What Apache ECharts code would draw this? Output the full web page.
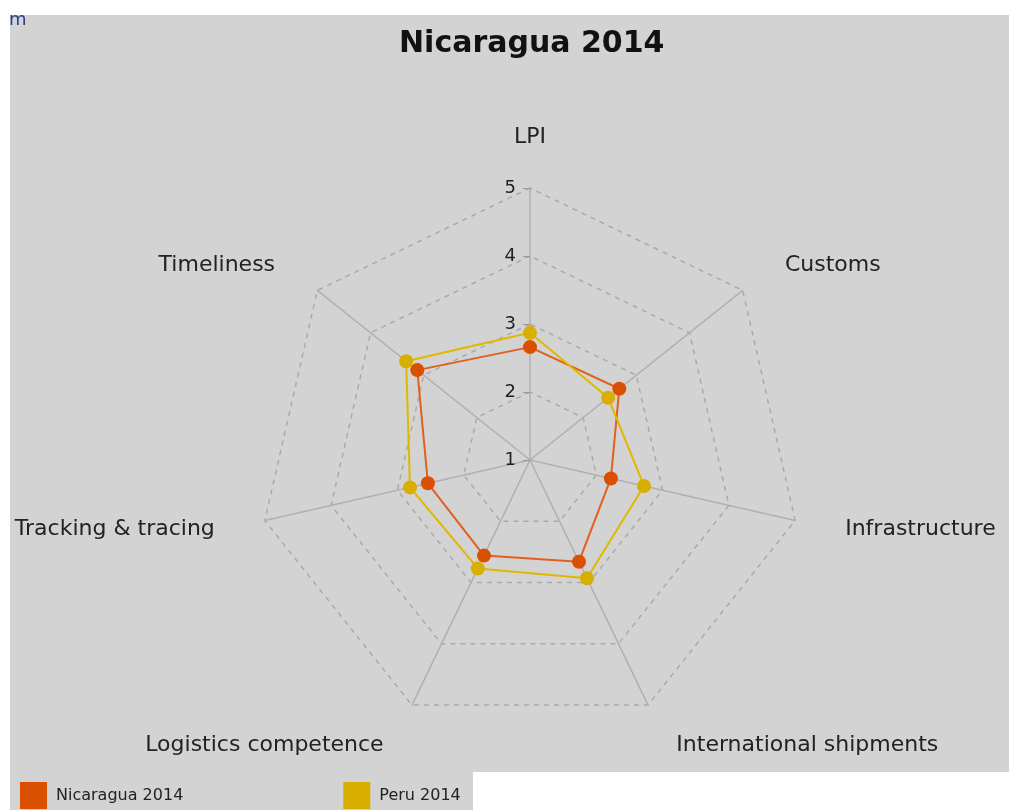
<!DOCTYPE html>
<html>
<head>
<meta charset="utf-8">
<script src="https://cdn.jsdelivr.net/npm/echarts@6/dist/echarts.min.js"></script>
<style>
  html, body { margin: 0; padding: 0; background: #fff; }
  #chart { width: 1011px; height: 810px; }
</style>
</head>
<body>
<div id="chart"></div>
<script>
// categories listed clockwise from the top, as in the picture
const categories = ['LPI', 'Customs', 'Infrastructure', 'International shipments',
  'Logistics competence', 'Tracking & tracing', 'Timeliness']
const nicaragua = [2.66, 2.68, 2.22, 2.66, 2.56, 2.54, 3.12]
const peru = [2.87, 2.47, 2.72, 2.93, 2.77, 2.81, 3.33]
const seriesNames = ['Nicaragua 2014', 'Peru 2014']
const tickLabels = ['1', '2', '3', '4', '5']

const font = 'DejaVu Sans, Verdana, sans-serif'
const center = [530, 460]
const radius = 272

// echarts radar runs counter-clockwise, so flip everything after the first axis
const order = [0].concat(categories.map((c, i) => i).slice(1).reverse())
const pick = arr => order.map(i => arr[i])
const lowNames = ['International shipments', 'Logistics competence']

const chart = echarts.init(document.getElementById('chart'))
chart.setOption({
  backgroundColor: '#fff',
  animation: false,
  graphic: [
    { type: 'rect', z: -10, shape: { x: 10, y: 15, width: 999, height: 757 }, style: { fill: '#d3d3d3' } },
    { type: 'rect', z: -10, shape: { x: 10, y: 772, width: 463, height: 38 }, style: { fill: '#d3d3d3' } },
    // stray clipped glyph in the top-left corner
    { type: 'text', z: 1, left: 9, top: 11, style: { text: 'm', fill: '#2b3f8c', font: '18px ' + font } },
    { type: 'rect', z: 5, shape: { x: 0, y: 0, width: 1011, height: 15 }, style: { fill: '#fff' } }
  ],
  title: {
    text: 'Nicaragua 2014',
    left: 394,
    top: 24,
    textStyle: { fontFamily: font, fontSize: 30, fontWeight: 'bold', color: '#111' }
  },
  legend: {
    left: 20,
    top: 782,
    itemWidth: 27,
    itemHeight: 27,
    itemGap: 160,
    icon: 'rect',
    padding: 0,
    textStyle: { fontFamily: font, fontSize: 16, color: '#222', padding: [0, 0, 0, 4] },
    data: seriesNames
  },
  radar: {
    center: center,
    radius: radius,
    startAngle: 90,
    splitNumber: 4,
    shape: 'polygon',
    nameGap: 40,
    axisName: {
      color: '#222',
      fontFamily: font,
      fontSize: 22,
      padding: [0, 11, 0, 11],
      formatter: name => lowNames.includes(name) ? '{low|' + name + '}' : name,
      rich: { low: { color: '#222', fontFamily: font, fontSize: 22, padding: [8, 0, 0, 0] } }
    },
    indicator: pick(categories).map(name => ({ name: name, min: 1, max: 5 })),
    axisLine: { lineStyle: { color: '#b0b0b0', width: 1.5 } },
    splitLine: { lineStyle: { color: '#aaaaaa', width: 1.5, type: [5, 5] } },
    splitArea: { show: false },
    axisTick: { show: false },
    axisLabel: { show: false }
  },
  // polar overlay only used to put the 1..5 scale on the LPI axis
  polar: { center: center, radius: radius },
  angleAxis: { show: false, startAngle: 90 },
  radiusAxis: {
    type: 'value',
    min: 1,
    max: 5,
    interval: 1,
    axisLine: { show: false },
    splitLine: { show: false },
    axisTick: { show: true, length: 7, lineStyle: { color: '#999' } },
    axisLabel: {
      margin: 14,
      color: '#222',
      fontFamily: font,
      fontSize: 18,
      padding: [6, 0, 0, 0],
      formatter: v => tickLabels[v - 1]
    }
  },
  series: [{
    type: 'radar',
    symbol: 'circle',
    symbolSize: 14,
    z: 3,
    data: [
      {
        name: seriesNames[0],
        value: pick(nicaragua),
        itemStyle: { color: '#d95000' },
        lineStyle: { color: '#e06020', width: 2 }
      },
      {
        name: seriesNames[1],
        value: pick(peru),
        itemStyle: { color: '#d8ae00' },
        lineStyle: { color: '#e0b800', width: 2 }
      }
    ]
  }]
})
</script>
</body>
</html>
